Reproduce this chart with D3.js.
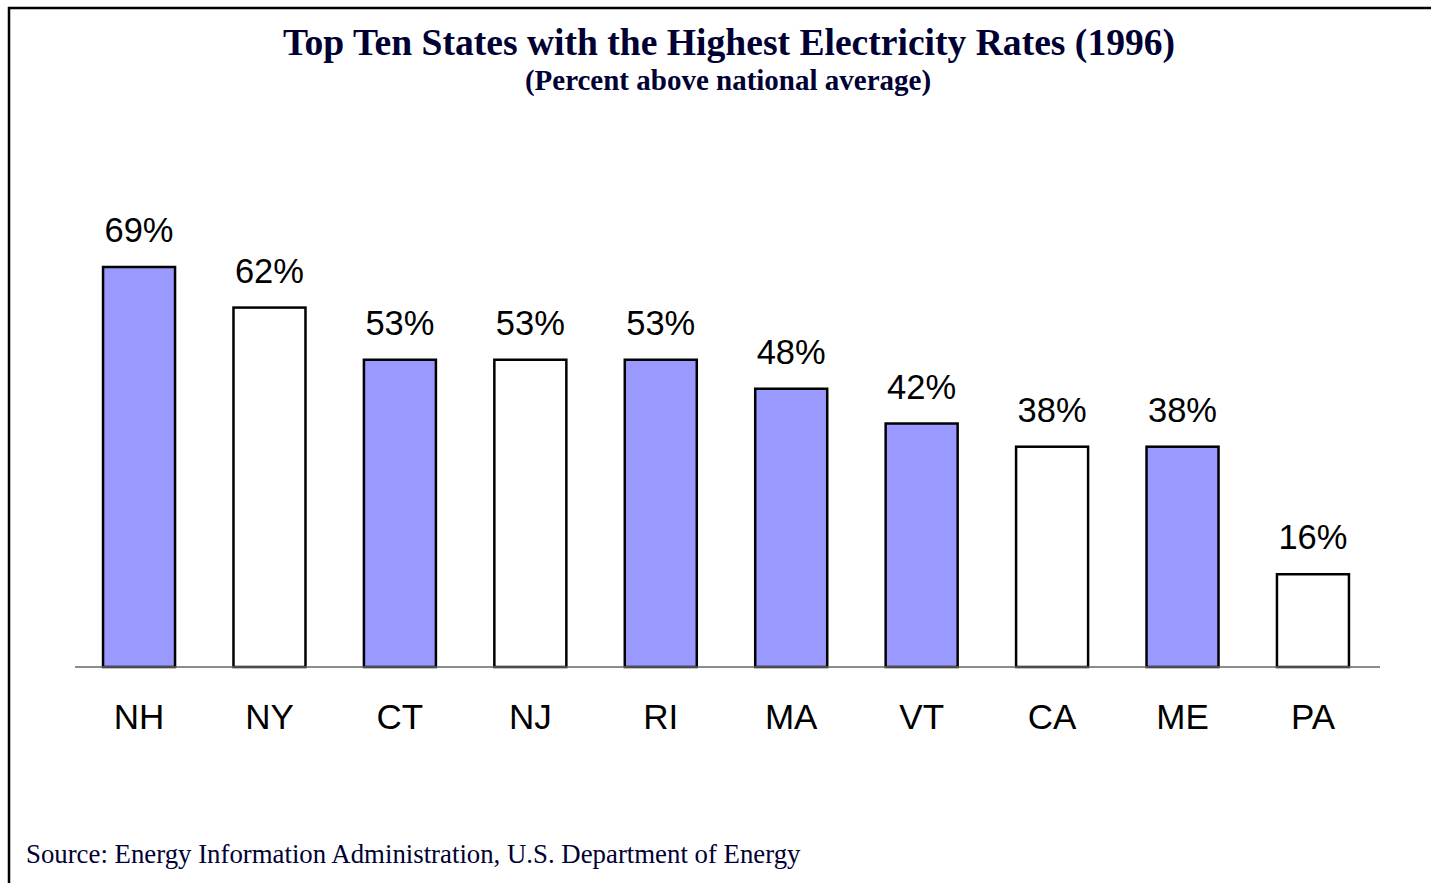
<!DOCTYPE html>
<html><head><meta charset="utf-8">
<script src="https://cdn.jsdelivr.net/npm/d3@7"></script>
<style>html,body{margin:0;padding:0;background:#fff;overflow:hidden}</style>
</head><body>
<script>
const states = ["NH","NY","CT","NJ","RI","MA","VT","CA","ME","PA"];
const values = [69,62,53,53,53,48,42,38,38,16];
const filled = [true,false,true,false,true,true,true,false,true,false];
const title = "Top Ten States with the Highest Electricity Rates (1996)";
const subtitle = "(Percent above national average)";
const source = "Source: Energy Information Administration, U.S. Department of Energy";

const W = 1431, H = 883;
const svg = d3.select("body").append("svg").attr("width", W).attr("height", H);
const serif = "'Liberation Serif','Times New Roman',serif";
const sans = "'Liberation Sans',Arial,sans-serif";

svg.append("rect").attr("x", 9).attr("y", 8).attr("width", W + 20).attr("height", H + 20)
  .attr("fill", "none").attr("stroke", "#000").attr("stroke-width", 2.5);

svg.append("text").attr("x", 729).attr("y", 55).attr("text-anchor", "middle")
  .attr("font-family", serif).attr("font-weight", "bold")
  .attr("font-size", 37.6).attr("fill", "#000033").text(title);
svg.append("text").attr("x", 728).attr("y", 90).attr("text-anchor", "middle")
  .attr("font-family", serif).attr("font-weight", "bold")
  .attr("font-size", 29).attr("fill", "#000033").text(subtitle);

const x0 = 75, x1 = 1380, y0 = 667;
const x = d3.scaleBand().domain(states).range([x0, 1377]).paddingInner(0.448).paddingOuter(0.215);
const y = d3.scaleLinear().domain([0, 69]).range([y0, 267]);

const g = svg.append("g");
g.selectAll("rect.bar").data(states).join("rect").attr("class", "bar")
  .attr("x", d => x(d)).attr("width", x.bandwidth())
  .attr("y", (d, i) => y(values[i])).attr("height", (d, i) => y0 - y(values[i]))
  .attr("fill", (d, i) => filled[i] ? "#9999FF" : "#FFFFFF")
  .attr("stroke", "#000").attr("stroke-width", 2.5);

g.selectAll("text.val").data(states).join("text").attr("class", "val")
  .attr("x", d => x(d) + x.bandwidth() / 2).attr("y", (d, i) => y(values[i]) - 25)
  .attr("text-anchor", "middle").attr("font-family", sans)
  .attr("font-size", 34.5).attr("fill", "#000").text((d, i) => values[i] + "%");

const axis = d3.axisBottom(x).tickSize(0).tickPadding(37);
const ag = svg.append("g").attr("transform", `translate(0,${y0})`).call(axis);
ag.select(".domain").attr("stroke", "#666").attr("stroke-width", 1.5).attr("d", `M${x0},0H${x1}`);
ag.selectAll("text").attr("font-family", sans)
  .attr("font-size", 35).attr("fill", "#000").attr("dy", "0.71em");

svg.append("text").attr("x", 26).attr("y", 863)
  .attr("font-family", serif)
  .attr("font-size", 26.8).attr("fill", "#000033").text(source);
</script>
</body></html>
